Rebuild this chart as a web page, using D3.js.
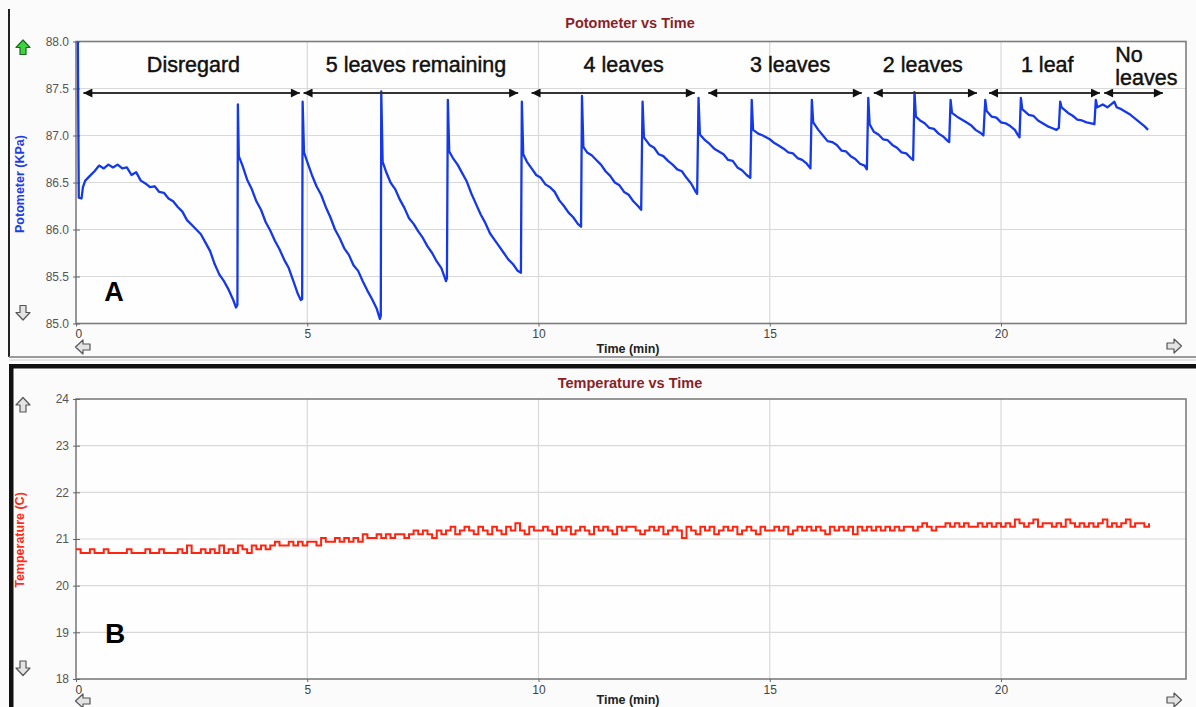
<!DOCTYPE html>
<html><head><meta charset="utf-8">
<script src="https://cdn.jsdelivr.net/npm/d3@7"></script>
<style>
body{margin:0;background:#fafafa;}
svg{display:block;font-family:"Liberation Sans",Arial,sans-serif;}
</style>
</head><body>
<svg id="c" width="1196" height="707"></svg>
<script>
// ---------- data ----------
const timeTicks = [0, 5, 10, 15, 20];
const potTicks = [85.0, 85.5, 86.0, 86.5, 87.0, 87.5, 88.0];
const tempTicks = [18, 19, 20, 21, 22, 23, 24];

const stageLabels = ["Disregard", "5 leaves remaining", "4 leaves", "3 leaves", "2 leaves", "1 leaf", "No leaves"];
const stageLabelTime = [2.54, 7.35, 11.84, 15.44, 18.31, 21.0, 22.47];
const stageStart = [0.16, 4.92, 9.85, 13.67, 17.25, 19.74, 22.23];
const stageEnd = [4.84, 9.56, 13.38, 16.99, 19.48, 22.14, 23.50];

// potometer reading (time min, kPa)
const potometer = [
[0.04,88.00],[0.06,86.34],[0.12,86.33],[0.15,86.45],[0.20,86.52],[0.30,86.57],[0.40,86.62],[0.50,86.68],
[0.60,86.65],[0.70,86.69],[0.80,86.66],[0.90,86.69],[1.00,86.65],[1.10,86.66],[1.20,86.58],[1.30,86.61],
[1.40,86.52],[1.50,86.49],[1.60,86.45],[1.70,86.46],[1.80,86.40],[1.90,86.39],[2.00,86.33],[2.10,86.30],
[2.20,86.24],[2.30,86.19],[2.40,86.10],[2.50,86.05],[2.60,86.00],[2.70,85.95],[2.80,85.86],[2.90,85.77],
[3.00,85.63],[3.10,85.52],[3.20,85.45],[3.30,85.36],[3.40,85.25],[3.46,85.17],[3.49,85.20],[3.50,87.33],
[3.52,86.78],[3.60,86.68],[3.70,86.53],[3.80,86.43],[3.90,86.30],[4.00,86.21],[4.10,86.08],[4.20,85.99],
[4.30,85.88],[4.40,85.79],[4.50,85.68],[4.60,85.59],[4.70,85.45],[4.80,85.31],[4.86,85.25],[4.89,85.26],
[4.90,87.36],[4.93,86.82],[5.00,86.72],[5.10,86.58],[5.20,86.46],[5.30,86.37],[5.40,86.24],[5.50,86.13],
[5.60,86.00],[5.70,85.91],[5.80,85.80],[5.90,85.73],[6.00,85.62],[6.10,85.56],[6.20,85.45],[6.30,85.35],
[6.40,85.26],[6.50,85.16],[6.57,85.05],[6.59,85.08],[6.60,87.47],[6.63,86.72],[6.70,86.62],[6.80,86.50],
[6.90,86.43],[7.00,86.32],[7.10,86.23],[7.20,86.12],[7.30,86.06],[7.40,85.98],[7.50,85.91],[7.60,85.82],
[7.70,85.75],[7.80,85.66],[7.90,85.59],[8.00,85.45],[8.02,85.48],[8.04,87.38],[8.07,86.83],[8.15,86.76],
[8.25,86.69],[8.35,86.60],[8.45,86.51],[8.55,86.38],[8.65,86.27],[8.75,86.16],[8.85,86.07],[8.95,85.96],
[9.05,85.89],[9.15,85.82],[9.25,85.75],[9.35,85.68],[9.45,85.63],[9.55,85.56],[9.62,85.54],[9.64,87.36],
[9.67,86.80],[9.75,86.72],[9.85,86.65],[9.95,86.58],[10.05,86.55],[10.15,86.48],[10.25,86.45],[10.35,86.40],
[10.45,86.31],[10.55,86.25],[10.65,86.18],[10.75,86.13],[10.85,86.06],[10.92,86.03],[10.94,87.42],[10.97,86.88],
[11.05,86.82],[11.15,86.79],[11.25,86.74],[11.35,86.69],[11.45,86.62],[11.55,86.57],[11.65,86.50],[11.75,86.47],
[11.85,86.40],[11.95,86.37],[12.05,86.30],[12.15,86.25],[12.22,86.21],[12.25,87.36],[12.28,86.98],[12.40,86.90],
[12.50,86.87],[12.60,86.80],[12.70,86.78],[12.80,86.73],[12.90,86.69],[13.00,86.64],[13.10,86.62],[13.20,86.55],
[13.30,86.49],[13.40,86.40],[13.43,86.38],[13.46,87.40],[13.49,87.01],[13.60,86.95],[13.70,86.91],[13.80,86.86],
[13.90,86.83],[14.00,86.80],[14.10,86.74],[14.20,86.73],[14.30,86.66],[14.40,86.63],[14.50,86.58],[14.58,86.55],
[14.61,87.38],[14.64,87.06],[14.75,87.02],[14.85,87.00],[15.00,86.96],[15.10,86.92],[15.20,86.89],[15.30,86.86],
[15.40,86.82],[15.50,86.81],[15.60,86.76],[15.70,86.74],[15.80,86.70],[15.88,86.65],[15.91,87.38],[15.94,87.14],
[16.05,87.06],[16.15,87.00],[16.25,86.94],[16.35,86.93],[16.45,86.90],[16.55,86.84],[16.65,86.83],[16.75,86.78],
[16.85,86.75],[16.95,86.70],[17.05,86.68],[17.10,86.64],[17.13,87.40],[17.16,87.12],[17.25,87.04],[17.35,87.01],
[17.45,86.96],[17.55,86.95],[17.65,86.90],[17.75,86.87],[17.85,86.82],[17.95,86.81],[18.05,86.76],[18.10,86.74],
[18.13,87.46],[18.16,87.20],[18.25,87.16],[18.35,87.13],[18.45,87.08],[18.55,87.07],[18.65,87.02],[18.75,86.99],
[18.85,86.94],[18.88,86.93],[18.91,87.38],[18.94,87.24],[19.05,87.20],[19.15,87.17],[19.25,87.14],[19.35,87.11],
[19.45,87.06],[19.55,87.03],[19.62,87.00],[19.66,87.38],[19.69,87.26],[19.80,87.20],[19.90,87.19],[20.00,87.14],
[20.10,87.13],[20.20,87.10],[20.30,87.06],[20.36,87.01],[20.40,86.98],[20.43,87.40],[20.46,87.28],[20.60,87.22],
[20.70,87.21],[20.80,87.16],[20.90,87.13],[21.00,87.10],[21.10,87.08],[21.20,87.06],[21.25,87.08],[21.28,87.36],
[21.31,87.30],[21.45,87.24],[21.55,87.21],[21.65,87.17],[21.75,87.16],[21.85,87.14],[21.95,87.13],[22.02,87.12],
[22.05,87.38],[22.08,87.30],[22.20,87.33],[22.30,87.30],[22.40,87.34],[22.45,87.36],[22.50,87.30],[22.60,87.28],
[22.70,87.25],[22.80,87.22],[22.90,87.18],[23.00,87.14],[23.10,87.10],[23.18,87.06]
];

// temperature (deg C) sampled every 0.1 min from t = 0
const temperature = [
20.78,20.70,20.70,20.78,20.70,20.70,20.78,20.70,20.70,20.70,
20.70,20.78,20.70,20.70,20.70,20.78,20.70,20.70,20.78,20.70,
20.70,20.70,20.78,20.70,20.86,20.70,20.70,20.78,20.70,20.78,
20.70,20.86,20.70,20.78,20.70,20.86,20.78,20.70,20.86,20.78,
20.86,20.78,20.86,20.94,20.86,20.86,20.94,20.86,20.94,20.86,
20.94,20.94,20.86,21.02,20.94,20.94,21.02,20.94,21.02,20.94,
21.02,20.94,21.10,21.02,21.02,21.10,21.02,21.10,21.02,21.10,
21.10,21.02,21.10,21.18,21.10,21.18,21.10,21.02,21.18,21.10,
21.18,21.26,21.10,21.18,21.26,21.18,21.10,21.26,21.18,21.10,
21.26,21.18,21.10,21.26,21.18,21.34,21.18,21.10,21.26,21.18,
21.18,21.26,21.18,21.10,21.26,21.18,21.26,21.10,21.18,21.26,
21.18,21.10,21.26,21.18,21.26,21.18,21.10,21.26,21.18,21.26,
21.26,21.18,21.10,21.18,21.26,21.18,21.26,21.10,21.18,21.26,
21.18,21.02,21.26,21.18,21.10,21.26,21.18,21.26,21.10,21.18,
21.26,21.18,21.26,21.10,21.18,21.26,21.18,21.10,21.26,21.18,
21.18,21.26,21.18,21.26,21.10,21.18,21.26,21.18,21.26,21.18,
21.26,21.18,21.10,21.26,21.18,21.26,21.18,21.26,21.10,21.26,
21.18,21.26,21.18,21.26,21.18,21.26,21.18,21.26,21.18,21.26,
21.26,21.18,21.26,21.34,21.26,21.18,21.26,21.26,21.34,21.26,
21.34,21.26,21.34,21.26,21.26,21.34,21.26,21.34,21.26,21.34,
21.26,21.34,21.26,21.42,21.34,21.26,21.34,21.42,21.26,21.34,
21.34,21.26,21.34,21.26,21.42,21.34,21.26,21.34,21.26,21.34,
21.26,21.34,21.42,21.26,21.34,21.26,21.34,21.42,21.26,21.34,
21.34,21.26,21.34
];

// ---------- drawing ----------
const svg = d3.select("#c");
const FONT = '"Liberation Sans", Arial, sans-serif';

const x = d3.scaleLinear().domain([0, 24]).range([76, 1186]);
const yP = d3.scaleLinear().domain([85, 88]).range([323.5, 41.5]);
const yT = d3.scaleLinear().domain([18, 24]).range([679, 399]);

// panel frames
svg.append("rect").attr("x", 0).attr("y", 0).attr("width", 1196).attr("height", 707).attr("fill", "#fbfbfb");
svg.append("line").attr("x1", 9).attr("x2", 9).attr("y1", 9).attr("y2", 357).attr("stroke", "#222").attr("stroke-width", 2);
svg.append("line").attr("x1", 9).attr("x2", 1196).attr("y1", 357).attr("y2", 357).attr("stroke", "#9a9a9a").attr("stroke-width", 2);
svg.append("line").attr("x1", 9).attr("x2", 1196).attr("y1", 360).attr("y2", 360).attr("stroke", "#d0d0d0").attr("stroke-width", 1);
svg.append("rect").attr("x", 9).attr("y", 364).attr("width", 1187).attr("height", 4.5).attr("fill", "#111");
svg.append("rect").attr("x", 9).attr("y", 364).attr("width", 4.5).attr("height", 343).attr("fill", "#111");

function arrowIcon(cx, cy, rot, fill, stroke) {
  svg.append("path")
    .attr("d", "M0,-7.5 L7,0 L3,0 L3,7 L-3,7 L-3,0 L-7,0 Z")
    .attr("transform", `translate(${cx},${cy}) rotate(${rot})`)
    .attr("fill", fill).attr("stroke", stroke).attr("stroke-width", 1.2).attr("stroke-linejoin", "round");
}

function panel(y, ticks, fmt, yTop, yBot, title, titleY, yLabel, yLabelColor, yLabelY, xLabelY, xTickY, upFill, upStroke) {
  const g = svg.append("g");
  g.append("rect").attr("x", x(0)).attr("y", yTop).attr("width", x(24) - x(0)).attr("height", yBot - yTop).attr("fill", "#fefefe");
  g.selectAll(".hg").data(ticks.slice(1, -1)).join("line")
    .attr("x1", x(0)).attr("x2", x(24)).attr("y1", d => y(d)).attr("y2", d => y(d))
    .attr("stroke", "#d9d9d9").attr("stroke-width", 1.2);
  g.selectAll(".vg").data(timeTicks.slice(1)).join("line")
    .attr("x1", d => x(d)).attr("x2", d => x(d)).attr("y1", yTop).attr("y2", yBot)
    .attr("stroke", "#d9d9d9").attr("stroke-width", 1.2);
  g.append("rect").attr("x", x(0)).attr("y", yTop).attr("width", x(24) - x(0)).attr("height", yBot - yTop)
    .attr("fill", "none").attr("stroke", "#7d7d7d").attr("stroke-width", 1.6);
  const ya = d3.axisLeft(y).tickValues(ticks).tickFormat(fmt).tickSize(4).tickPadding(3);
  const yg = g.append("g").attr("transform", `translate(${x(0)},0)`).call(ya);
  yg.select(".domain").remove();
  yg.selectAll(".tick line").attr("stroke", "#666").attr("x2", 4).attr("x1", -3);
  yg.selectAll(".tick text").attr("fill", "#555").attr("font-size", 12).attr("font-family", FONT);
  const xa = d3.axisBottom(x).tickValues(timeTicks).tickFormat(d3.format("d")).tickSize(3).tickPadding(3);
  const xg = g.append("g").attr("transform", `translate(0,${yBot})`).call(xa);
  xg.select(".domain").remove();
  xg.selectAll(".tick line").attr("stroke", "#666");
  xg.selectAll(".tick text").attr("fill", "#444").attr("font-size", 12).attr("font-family", FONT)
    .attr("text-anchor", d => d === 0 ? "start" : "middle").attr("dx", d => d === 0 ? -1 : 0);
  g.append("text").attr("x", 630).attr("y", titleY).attr("text-anchor", "middle")
    .attr("font-size", 14.5).attr("font-weight", "bold").attr("fill", "#8a1f28").text(title);
  g.append("text").attr("x", 628).attr("y", xLabelY).attr("text-anchor", "middle")
    .attr("font-size", 12.5).attr("font-weight", "bold").attr("fill", "#222").text("Time (min)");
  g.append("text").attr("transform", `translate(24,${yLabelY}) rotate(-90)`).attr("text-anchor", "middle")
    .attr("font-size", 12.5).attr("font-weight", "bold").attr("fill", yLabelColor).text(yLabel);
  arrowIcon(23, yTop + 6, 0, upFill, upStroke);
  arrowIcon(23, yBot - 11, 180, "#e4e4e4", "#555");
  arrowIcon(83, xTickY + 10, -90, "#e4e4e4", "#555");
  arrowIcon(1174, xTickY + 9, 90, "#e4e4e4", "#555");
  return g;
}

panel(yP, potTicks, d3.format(".1f"), 41.5, 323.5, "Potometer vs Time", 28, "Potometer (KPa)", "#1f3ee0", 184, 353, 337, "#3ed43e", "#1a6b1a");
panel(yT, tempTicks, d3.format("d"), 399, 679, "Temperature vs Time", 388, "Temperature (C)", "#ff2a1a", 540, 703.5, 691, "#e4e4e4", "#555");

const defs = svg.append("defs");
defs.append("clipPath").attr("id", "cp1").append("rect").attr("x", x(0)).attr("y", 41.5).attr("width", x(24) - x(0)).attr("height", 282);
defs.append("clipPath").attr("id", "cp2").append("rect").attr("x", x(0)).attr("y", 399).attr("width", x(24) - x(0)).attr("height", 280);

svg.append("path").datum(potometer).attr("clip-path", "url(#cp1)")
  .attr("d", d3.line().x(d => x(d[0])).y(d => yP(d[1])))
  .attr("fill", "none").attr("stroke", "#1538e8").attr("stroke-width", 2.3).attr("stroke-linejoin", "round");

const tempPts = temperature.map((v, i) => [i * 0.1, v]);
tempPts.push([23.2, temperature[temperature.length - 1]]);
svg.append("path").datum(tempPts).attr("clip-path", "url(#cp2)")
  .attr("d", d3.line().curve(d3.curveStepAfter).x(d => x(d[0])).y(d => yT(d[1])))
  .attr("fill", "none").attr("stroke", "#ff2410").attr("stroke-width", 2);

const ann = svg.append("g");
defs.append("marker").attr("id", "ah").attr("viewBox", "0 0 10 10").attr("refX", 10).attr("refY", 5)
  .attr("markerWidth", 11).attr("markerHeight", 9).attr("markerUnits", "userSpaceOnUse").attr("orient", "auto-start-reverse")
  .append("path").attr("d", "M0,0 L10,5 L0,10 Z").attr("fill", "#111");
ann.selectAll("line.seg").data(stageStart).join("line")
  .attr("x1", d => x(d)).attr("x2", (d, i) => x(stageEnd[i])).attr("y1", 93).attr("y2", 93)
  .attr("stroke", "#333").attr("stroke-width", 2)
  .attr("marker-start", "url(#ah)").attr("marker-end", "url(#ah)");
ann.selectAll("text.lab").data(stageLabels.slice(0, 6)).join("text")
  .attr("x", (d, i) => x(stageLabelTime[i])).attr("y", 72).attr("text-anchor", "middle")
  .attr("font-size", 21.5).attr("fill", "#111").attr("stroke", "#111").attr("stroke-width", 0.45).text(d => d);
const nl = ann.append("text").attr("x", x(stageLabelTime[6])).attr("y", 62).attr("font-size", 21.5)
  .attr("fill", "#111").attr("stroke", "#111").attr("stroke-width", 0.45);
nl.append("tspan").attr("x", x(stageLabelTime[6])).attr("y", 62).text(stageLabels[6].split(" ")[0]);
nl.append("tspan").attr("x", x(stageLabelTime[6])).attr("y", 84.5).text(stageLabels[6].split(" ")[1]);

svg.append("text").attr("x", 114).attr("y", 301).attr("text-anchor", "middle").attr("font-size", 27).attr("font-weight", "bold").attr("fill", "#000").text("A");
svg.append("text").attr("x", 115).attr("y", 643).attr("text-anchor", "middle").attr("font-size", 28).attr("font-weight", "bold").attr("fill", "#000").text("B");
</script>
</body></html>
